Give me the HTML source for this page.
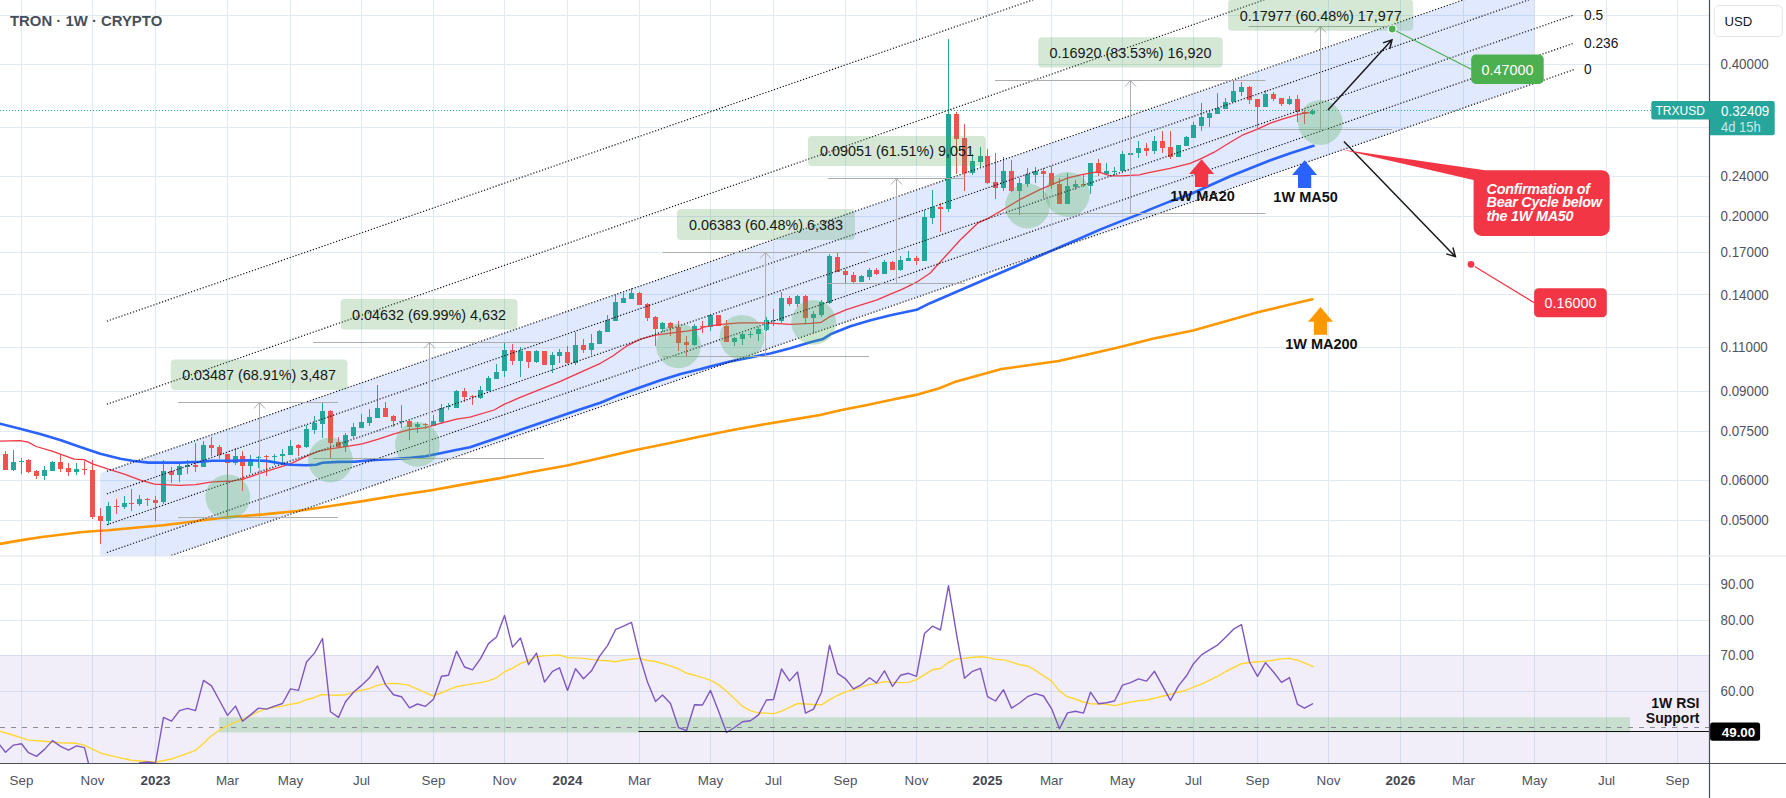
<!DOCTYPE html>
<html><head><meta charset="utf-8"><title>TRON 1W</title><style>html,body{margin:0;padding:0;background:#fff}body{width:1786px;height:798px;overflow:hidden}</style></head><body>
<svg width="1786" height="798" viewBox="0 0 1786 798" font-family='"Liberation Sans", Arial, sans-serif' style="display:block">
<rect width="1786" height="798" fill="#fff"/>
<defs><clipPath id="cm"><rect x="0" y="0" width="1709.5" height="556"/></clipPath><clipPath id="cr"><rect x="0" y="556" width="1709.5" height="207.5"/></clipPath></defs>
<path d="M21.5 0V763.5M92.5 0V763.5M155.5 0V763.5M227.5 0V763.5M290.5 0V763.5M361.5 0V763.5M433.5 0V763.5M504.5 0V763.5M567.5 0V763.5M639.5 0V763.5M710.5 0V763.5M773.5 0V763.5M845.5 0V763.5M916.5 0V763.5M987.5 0V763.5M1051.5 0V763.5M1122.5 0V763.5M1193.5 0V763.5M1257.5 0V763.5M1328.5 0V763.5M1400.5 0V763.5M1463.5 0V763.5M1534.5 0V763.5M1606.5 0V763.5M1677.5 0V763.5M0 15.5H1709.5M0 64.5H1709.5M0 127.5H1709.5M0 176.5H1709.5M0 216.5H1709.5M0 252.5H1709.5M0 294.5H1709.5M0 347.5H1709.5M0 391.5H1709.5M0 431.5H1709.5M0 480.5H1709.5M0 520.5H1709.5M0 584.5H1709.5M0 620.5H1709.5M0 655.5H1709.5M0 691.5H1709.5" stroke="#e0eaf3" stroke-width="1" fill="none"/>
<rect x="0" y="655" width="1709.5" height="108.5" fill="rgba(126,87,194,0.1)"/>
<g clip-path="url(#cm)">
<polygon points="100.2,473.3 1534.5,-24.4 1534.5,83.3 100.2,580" fill="rgba(41,98,255,0.14)"/>
<polyline points="0,543.9 20,540.4 40.1,537.3 60.2,534.7 80.2,532.3 92.4,531.3 108.3,530.3 140.4,527.3 163.4,525.3 187.5,522.3 210.5,519.3 230,517 263.6,514.4 297.2,511 330.8,506 364.4,500.9 398,495.2 431.5,490.2 465.1,484.1 498.7,478.4 532.3,471.7 565.9,465.7 599.5,458.3 633.1,450.5 666.7,443.8 700.3,436.4 733.9,429.7 767.5,423.7 800,418.4 820.2,415 840.3,410.3 867.2,405 894,399.2 915.9,394.9 939.4,388.2 954.5,382.1 978,375.4 1001.5,369 1028.4,365.3 1058.6,361 1085.5,354.9 1119.1,347.2 1152.7,338.8 1193,330.4 1223.2,322 1256.8,312.6 1287,305.2 1312.4,299.3" fill="none" stroke="#ff9800" stroke-width="2.6" stroke-linejoin="round" stroke-linecap="round" />
<path d="M13 450h1V471h-1zM21 458h1V474h-1zM44 466h1V480h-1zM52 461h1V471h-1zM76 463h1V475h-1zM108 502h1V525h-1zM124 496h1V509h-1zM139 495h1V506h-1zM163 460h1V504h-1zM179 464h1V482h-1zM187 460h1V474h-1zM203 441h1V467h-1zM235 448h1V465h-1zM250 455h1V473h-1zM258 456h1V468h-1zM274 454h1V465h-1zM282 449h1V464h-1zM290 440h1V455h-1zM306 425h1V448h-1zM314 416h1V434h-1zM322 403h1V438h-1zM345 433h1V452h-1zM353 423h1V438h-1zM361 414h1V428h-1zM369 409h1V426h-1zM377 385h1V418h-1zM401 405h1V428h-1zM417 422h1V433h-1zM433 415h1V426h-1zM441 404h1V424h-1zM448 403h1V410h-1zM456 390h1V408h-1zM480 386h1V399h-1zM488 376h1V391h-1zM496 364h1V379h-1zM504 343h1V377h-1zM520 347h1V377h-1zM536 350h1V363h-1zM552 352h1V373h-1zM559 349h1V363h-1zM575 332h1V365h-1zM591 334h1V355h-1zM599 330h1V344h-1zM607 315h1V332h-1zM615 295h1V321h-1zM623 293h1V303h-1zM631 288h1V299h-1zM662 322h1V332h-1zM694 324h1V346h-1zM710 314h1V331h-1zM734 337h1V346h-1zM742 333h1V345h-1zM750 331h1V338h-1zM758 327h1V341h-1zM766 317h1V331h-1zM773 309h1V326h-1zM781 292h1V323h-1zM797 295h1V307h-1zM813 311h1V333h-1zM821 300h1V317h-1zM829 254h1V304h-1zM861 275h1V282h-1zM869 268h1V280h-1zM884 260h1V274h-1zM900 256h1V271h-1zM908 251h1V261h-1zM924 210h1V261h-1zM932 190h1V224h-1zM948 39h1V212h-1zM972 154h1V175h-1zM980 147h1V167h-1zM1003 157h1V191h-1zM1019 178h1V215h-1zM1027 168h1V187h-1zM1035 167h1V183h-1zM1067 173h1V204h-1zM1075 180h1V190h-1zM1090 163h1V194h-1zM1106 163h1V175h-1zM1114 167h1V175h-1zM1122 151h1V172h-1zM1130 153h1V155h-1zM1138 141h1V158h-1zM1154 136h1V154h-1zM1178 145h1V157h-1zM1186 136h1V146h-1zM1193 122h1V138h-1zM1201 103h1V131h-1zM1209 110h1V127h-1zM1217 93h1V114h-1zM1225 98h1V109h-1zM1233 80h1V102h-1zM1241 82h1V96h-1zM1265 90h1V107h-1zM1289 96h1V105h-1zM1312 109h1V115h-1zM11 462h5V470h-5zM19 461h5V462h-5zM42 470h5V476h-5zM50 462h5V471h-5zM74 469h5V472h-5zM106 506h5V521h-5zM122 503h5V507h-5zM137 499h5V504h-5zM161 471h5V502h-5zM177 466h5V475h-5zM185 465h5V467h-5zM201 445h5V467h-5zM233 456h5V463h-5zM248 460h5V466h-5zM256 457h5V458h-5zM272 456h5V457h-5zM280 454h5V456h-5zM288 446h5V455h-5zM304 429h5V447h-5zM312 423h5V430h-5zM320 411h5V424h-5zM343 435h5V447h-5zM351 427h5V436h-5zM359 422h5V428h-5zM367 417h5V423h-5zM375 408h5V418h-5zM399 421h5V422h-5zM415 424h5V427h-5zM431 421h5V426h-5zM439 408h5V422h-5zM446 406h5V407h-5zM454 391h5V408h-5zM478 390h5V398h-5zM486 378h5V391h-5zM494 372h5V379h-5zM502 350h5V371h-5zM518 351h5V361h-5zM534 351h5V362h-5zM550 355h5V365h-5zM557 352h5V356h-5zM573 345h5V363h-5zM589 343h5V350h-5zM597 331h5V344h-5zM605 320h5V332h-5zM613 302h5V321h-5zM621 298h5V303h-5zM629 293h5V299h-5zM660 323h5V329h-5zM692 326h5V345h-5zM708 315h5V327h-5zM732 338h5V342h-5zM740 334h5V339h-5zM748 334h5V335h-5zM756 329h5V334h-5zM764 320h5V330h-5zM771 320h5V321h-5zM779 298h5V321h-5zM795 296h5V304h-5zM811 314h5V318h-5zM819 302h5V315h-5zM827 256h5V303h-5zM859 276h5V282h-5zM867 270h5V277h-5zM882 262h5V274h-5zM898 260h5V270h-5zM906 258h5V261h-5zM922 217h5V261h-5zM930 207h5V218h-5zM946 114h5V209h-5zM970 161h5V173h-5zM978 156h5V162h-5zM1001 171h5V188h-5zM1017 183h5V191h-5zM1025 174h5V184h-5zM1033 171h5V175h-5zM1065 186h5V204h-5zM1073 184h5V187h-5zM1088 163h5V186h-5zM1104 171h5V174h-5zM1112 171h5V172h-5zM1120 154h5V171h-5zM1128 153h5V155h-5zM1136 148h5V153h-5zM1152 141h5V151h-5zM1176 145h5V157h-5zM1184 137h5V146h-5zM1191 125h5V138h-5zM1199 117h5V126h-5zM1207 113h5V118h-5zM1215 108h5V114h-5zM1223 102h5V109h-5zM1231 91h5V102h-5zM1239 87h5V92h-5zM1263 94h5V107h-5zM1287 99h5V104h-5zM1310 111h5V114h-5z" fill="#26a69a" shape-rendering="crispEdges"/>
<path d="M5 451h1V470h-1zM28 459h1V473h-1zM36 470h1V479h-1zM60 454h1V472h-1zM68 463h1V476h-1zM84 461h1V475h-1zM92 460h1V519h-1zM100 508h1V544h-1zM116 499h1V514h-1zM131 489h1V511h-1zM147 498h1V506h-1zM155 496h1V521h-1zM171 467h1V483h-1zM195 443h1V472h-1zM211 437h1V456h-1zM219 445h1V459h-1zM227 454h1V516h-1zM242 451h1V491h-1zM266 455h1V476h-1zM298 444h1V456h-1zM330 410h1V458h-1zM338 437h1V448h-1zM385 402h1V417h-1zM393 415h1V427h-1zM409 420h1V440h-1zM425 423h1V429h-1zM464 388h1V402h-1zM472 395h1V405h-1zM512 344h1V365h-1zM528 351h1V368h-1zM544 351h1V365h-1zM567 346h1V364h-1zM583 339h1V353h-1zM639 292h1V305h-1zM647 303h1V321h-1zM655 316h1V346h-1zM670 322h1V336h-1zM678 321h1V351h-1zM686 336h1V356h-1zM702 321h1V333h-1zM718 315h1V326h-1zM726 320h1V342h-1zM789 296h1V306h-1zM805 295h1V323h-1zM837 253h1V272h-1zM845 269h1V283h-1zM853 272h1V283h-1zM876 268h1V275h-1zM892 261h1V270h-1zM916 256h1V265h-1zM940 203h1V232h-1zM956 112h1V174h-1zM964 124h1V191h-1zM987 149h1V184h-1zM995 153h1V199h-1zM1011 160h1V192h-1zM1043 168h1V198h-1zM1051 166h1V189h-1zM1059 178h1V204h-1zM1083 175h1V187h-1zM1098 159h1V176h-1zM1146 143h1V156h-1zM1162 131h1V153h-1zM1170 131h1V159h-1zM1249 86h1V104h-1zM1257 99h1V129h-1zM1273 92h1V101h-1zM1281 98h1V106h-1zM1297 95h1V122h-1zM1304 110h1V124h-1zM3 454h5V470h-5zM26 460h5V472h-5zM34 471h5V476h-5zM58 462h5V469h-5zM66 468h5V472h-5zM82 469h5V470h-5zM90 470h5V517h-5zM98 516h5V521h-5zM114 506h5V507h-5zM129 503h5V504h-5zM145 499h5V500h-5zM153 500h5V503h-5zM169 471h5V475h-5zM193 465h5V467h-5zM209 445h5V448h-5zM217 447h5V455h-5zM225 454h5V463h-5zM240 456h5V466h-5zM264 456h5V457h-5zM296 445h5V448h-5zM328 411h5V443h-5zM336 442h5V447h-5zM383 408h5V417h-5zM391 416h5V421h-5zM407 421h5V427h-5zM423 424h5V425h-5zM462 391h5V397h-5zM470 396h5V397h-5zM510 350h5V361h-5zM526 351h5V362h-5zM542 351h5V365h-5zM565 352h5V363h-5zM581 345h5V350h-5zM637 293h5V305h-5zM645 304h5V318h-5zM653 317h5V329h-5zM668 323h5V328h-5zM676 327h5V343h-5zM684 342h5V345h-5zM700 326h5V327h-5zM716 315h5V326h-5zM724 326h5V342h-5zM787 298h5V304h-5zM803 296h5V318h-5zM835 257h5V272h-5zM843 271h5V275h-5zM851 275h5V282h-5zM874 270h5V274h-5zM890 262h5V270h-5zM914 258h5V261h-5zM938 207h5V209h-5zM954 114h5V139h-5zM962 138h5V173h-5zM985 156h5V183h-5zM993 182h5V188h-5zM1009 171h5V191h-5zM1041 171h5V174h-5zM1049 173h5V185h-5zM1057 184h5V204h-5zM1081 184h5V185h-5zM1096 163h5V173h-5zM1144 148h5V151h-5zM1160 141h5V148h-5zM1168 147h5V157h-5zM1247 87h5V100h-5zM1255 99h5V107h-5zM1271 94h5V99h-5zM1279 98h5V104h-5zM1295 99h5V112h-5zM1302 112h5V114h-5z" fill="#ef5350" shape-rendering="crispEdges"/>
<polyline points="0,441.1 20.1,440.7 28.1,442.1 36.1,446.5 52.1,451.1 60.2,454.1 74.2,459.1 84.2,459.7 92.4,463.8 108.3,469.2 124.3,474.2 140.4,480.2 154.4,484.2 164.4,484.6 180.5,485.4 195.5,484.6 210.5,482.2 227.4,481.2 230,481.4 242.6,479.3 260.1,473.3 274.1,468.9 290.2,463.9 306.2,456.3 318.2,451.3 330.3,448.9 345.7,446.7 362.3,443.9 378.4,439.2 393.4,434.2 409.4,429.6 425.5,427.6 441.3,423.2 456.6,419.2 470,417.2 494.1,410 504.1,404.4 520.2,397.4 540.2,389.3 560.3,381.3 580.3,372.3 600.4,363.3 612.4,356.3 626.4,346.2 640.5,339.2 655.5,335.2 670.5,333.2 686.6,331.2 700,329.2 702,327.3 718.1,324.7 740.1,322.9 760.2,322.9 774.2,323.3 790.3,324.3 810.3,323.3 821.3,322.3 830.4,316.3 846.4,309.6 860.4,305.2 876.5,300.2 890.5,294.2 902.5,289.2 916.6,282.2 930,273.2 960.2,240 978.2,222.8 988.2,218.3 1000.3,211.3 1020.3,199.3 1040.4,189.3 1052.4,184.3 1067.4,178.2 1080.5,174.8 1095.5,172.2 1100.5,172.6 1110.5,175.8 1120.6,175.8 1140,174.8 1140,174.7 1150.1,172.3 1170.1,168.3 1190.2,163.3 1202.2,158.2 1214.2,152.2 1230.3,142.2 1242.3,135.2 1257.5,129.2 1270.4,123.2 1282.4,119.1 1297.4,114.7 1304.6,113.1 1309,112.7" fill="none" stroke="#f23645" stroke-width="1.3" stroke-linejoin="round" stroke-linecap="round" />
<polyline points="0,423.7 20.1,428.7 40.1,434.1 60.2,440.1 80.2,447.1 100.3,453.7 120.3,458.7 132.3,460.8 148.4,462.6 163.4,462.6 180.5,462.6 200.5,461.8 212.5,460.8 226.6,460.8 230,460.9 250.1,460.3 266.1,460.9 280.1,463.3 290.2,464.7 306.2,465.3 316.2,464.7 322.4,462.7 338.3,461.9 354.3,461.7 370.4,460.3 390.4,459.3 410.5,457.9 425.5,456.3 440.5,453.3 454.6,450.3 470,447.3 578.3,410 600.4,402.8 620.4,394.4 640.5,387.3 660.5,380.3 680.6,373.9 700,369.3 710.1,366.4 730.1,361.4 750.2,357.4 770.2,353.4 790.3,348.3 810.3,342.3 822.3,339.3 830.4,334.3 850.4,326.3 870.5,320.3 890.5,315.3 916.6,309.8 930,303.2 1076.4,240 1100.5,229.4 1120.6,221.4 1140,213.9 1150.1,209.4 1170.1,201.4 1190.2,194.3 1210.2,185.3 1230.3,176.3 1250.3,168.3 1270.4,160.3 1290.4,153.2 1313.5,145.8" fill="none" stroke="#2962ff" stroke-width="2.6" stroke-linejoin="round" stroke-linecap="round" />
<path d="M0 110.5H1709.5" stroke="#26a69a" stroke-width="1" stroke-dasharray="1 2" fill="none"/>
<line x1="106.9" y1="321.2" x2="1573.9" y2="-187.9" stroke="#111" stroke-width="1.2" stroke-dasharray="1.2 1.87"/>
<line x1="106.9" y1="404.3" x2="1573.9" y2="-108.4" stroke="#111" stroke-width="1.2" stroke-dasharray="1.2 1.87"/>
<line x1="106.9" y1="471.3" x2="1573.9" y2="-38.5" stroke="#111" stroke-width="1.2" stroke-dasharray="1.2 1.87"/>
<line x1="106.9" y1="493.9" x2="1573.9" y2="-15.8" stroke="#111" stroke-width="1.2" stroke-dasharray="1.2 1.87"/>
<line x1="106.9" y1="524.8" x2="1573.9" y2="15" stroke="#111" stroke-width="1.2" stroke-dasharray="1.2 1.87"/>
<line x1="106.9" y1="552.5" x2="1573.9" y2="43.2" stroke="#111" stroke-width="1.2" stroke-dasharray="1.2 1.87"/>
<line x1="171.4" y1="555.4" x2="1573.9" y2="69.7" stroke="#111" stroke-width="1.2" stroke-dasharray="1.2 1.87"/>
<text transform="translate(1584 19.9) scale(0.94 1)" font-size="14.6" text-anchor="start" fill="#161616">0.5</text>
<text transform="translate(1584 47.9) scale(0.94 1)" font-size="14.6" text-anchor="start" fill="#161616">0.236</text>
<text transform="translate(1584 74.4) scale(0.94 1)" font-size="14.6" text-anchor="start" fill="#161616">0</text>
<path d="M178 402.5H338M178 517.5H338M259.5 517.5V402.5M254.0 408.5L259.5 402.5L265.0 408.5" stroke="#adadad" stroke-width="1" fill="none"/>
<rect x="170.8" y="359.5" width="176.7" height="30.5" rx="4" fill="rgba(76,160,80,0.24)"/>
<text transform="translate(259.1 380.1) scale(0.945 1)" font-size="15.2" text-anchor="middle" fill="#161616">0.03487 (68.91%) 3,487</text>
<path d="M313 342.5H542M313 458.5H544M429.5 458.5V342.5M424.0 348.5L429.5 342.5L435.0 348.5" stroke="#adadad" stroke-width="1" fill="none"/>
<rect x="340.5" y="299" width="177" height="30.5" rx="4" fill="rgba(76,160,80,0.24)"/>
<text transform="translate(429 319.6) scale(0.945 1)" font-size="15.2" text-anchor="middle" fill="#161616">0.04632 (69.99%) 4,632</text>
<path d="M662.5 252.5H869M662.5 356.5H869M765.5 356.5V252.5M760.0 258.5L765.5 252.5L771.0 258.5" stroke="#adadad" stroke-width="1" fill="none"/>
<rect x="677" y="209" width="178" height="31" rx="4" fill="rgba(76,160,80,0.24)"/>
<text transform="translate(766 229.9) scale(0.945 1)" font-size="15.2" text-anchor="middle" fill="#161616">0.06383 (60.48%) 6,383</text>
<path d="M828 178.5H965M828 283.5H965M896.5 283.5V178.5M891.0 184.5L896.5 178.5L902.0 184.5" stroke="#adadad" stroke-width="1" fill="none"/>
<rect x="808" y="136" width="178" height="30" rx="4" fill="rgba(76,160,80,0.24)"/>
<text transform="translate(897 156.4) scale(0.945 1)" font-size="15.2" text-anchor="middle" fill="#161616">0.09051 (61.51%) 9,051</text>
<path d="M995 80.5H1265.4M998 213.5H1265.4M1130.5 213.5V80.5M1125.0 86.5L1130.5 80.5L1136.0 86.5" stroke="#adadad" stroke-width="1" fill="none"/>
<rect x="1038.2" y="37.3" width="184.5" height="30.2" rx="4" fill="rgba(76,160,80,0.24)"/>
<text transform="translate(1130.5 57.8) scale(0.945 1)" font-size="15.2" text-anchor="middle" fill="#161616">0.16920 (83.53%) 16,920</text>
<path d="M1248.5 26.5H1390M1257.5 129.5H1392M1320.5 129.5V26.5M1315.0 32.5L1320.5 26.5L1326.0 32.5" stroke="#adadad" stroke-width="1" fill="none"/>
<rect x="1228.1" y="-0.5" width="185.1" height="31.3" rx="4" fill="rgba(76,160,80,0.24)"/>
<text transform="translate(1320.7 20.6) scale(0.945 1)" font-size="15.2" text-anchor="middle" fill="#161616">0.17977 (60.48%) 17,977</text>
<circle cx="227.8" cy="497" r="22.4" fill="rgba(76,175,80,0.3)"/>
<circle cx="330.4" cy="460" r="22.4" fill="rgba(76,175,80,0.3)"/>
<circle cx="417.4" cy="444.4" r="22.4" fill="rgba(76,175,80,0.3)"/>
<circle cx="678.5" cy="345.8" r="22.4" fill="rgba(76,175,80,0.3)"/>
<circle cx="742" cy="337.3" r="22.4" fill="rgba(76,175,80,0.3)"/>
<circle cx="813.7" cy="322.3" r="22.4" fill="rgba(76,175,80,0.3)"/>
<circle cx="1027.5" cy="206" r="22.4" fill="rgba(76,175,80,0.3)"/>
<circle cx="1067.4" cy="194.3" r="22.4" fill="rgba(76,175,80,0.3)"/>
<circle cx="1320.3" cy="122.5" r="22.4" fill="rgba(76,175,80,0.3)"/>
<path d="M1201.6 159.3l12.5 14.8h-5.9v12.9h-13.2v-12.9h-5.9z" fill="#f23645"/>
<path d="M1304.6 160.3l12.5 14.8h-5.9v12.9h-13.2v-12.9h-5.9z" fill="#2962ff"/>
<path d="M1320.5 307l12.5 14.8h-5.9v12.9h-13.2v-12.9h-5.9z" fill="#ff9800"/>
<text x="1202.6" y="200.6" font-size="14.5" font-weight="bold" text-anchor="middle" fill="#111">1W MA20</text>
<text x="1305.6" y="201.5" font-size="14.5" font-weight="bold" text-anchor="middle" fill="#111">1W MA50</text>
<text x="1321.4" y="349" font-size="14.5" font-weight="bold" text-anchor="middle" fill="#111">1W MA200</text>
<path d="M1328 110L1392 39.8M1389.7 49L1392 39.8L1383 42.9" stroke="#1a1a1a" stroke-width="1.5" fill="none"/>
<path d="M1343.9 141.6L1455.4 256.7M1446.3 253.9L1455.4 256.7L1452.9 247.5" stroke="#1a1a1a" stroke-width="1.5" fill="none"/>
<path d="M1341.4 149.6L1485 170.2H1601.7a8 8 0 0 1 8 8V227.9a8 8 0 0 1 -8 8H1481.6a8 8 0 0 1 -8 -8V180z" fill="#f23645"/>
<text x="1486.5" y="193.6" font-size="14.4" letter-spacing="-0.25" font-weight="bold" font-style="italic" fill="#fff">Confirmation of</text>
<text x="1486.5" y="207.3" font-size="14.4" letter-spacing="-0.25" font-weight="bold" font-style="italic" fill="#fff">Bear Cycle below</text>
<text x="1486.5" y="221" font-size="14.4" letter-spacing="-0.25" font-weight="bold" font-style="italic" fill="#fff">the 1W MA50</text>
<line x1="1392.2" y1="29" x2="1471.2" y2="69.2" stroke="#4caf50" stroke-width="1.2"/>
<circle cx="1392.2" cy="29" r="4" fill="#4caf50" stroke="#fff" stroke-width="1.2"/>
<rect x="1471.2" y="54.6" width="72.5" height="29.3" rx="4.5" fill="#4caf50"/>
<text transform="translate(1507.5 74.5) scale(0.945 1)" font-size="15.2" text-anchor="middle" fill="#fff">0.47000</text>
<line x1="1471" y1="264.3" x2="1534.1" y2="302.7" stroke="#f23645" stroke-width="1.2"/>
<circle cx="1471" cy="264.3" r="4" fill="#f23645" stroke="#fff" stroke-width="1.2"/>
<rect x="1534.1" y="288.2" width="72.7" height="29" rx="4.5" fill="#f23645"/>
<text transform="translate(1570.5 308) scale(0.945 1)" font-size="15.2" text-anchor="middle" fill="#fff">0.16000</text>
<text x="10" y="26.2" font-size="14.9" font-weight="bold" fill="#4a4e59">TRON · 1W · CRYPTO</text>
</g>
<g clip-path="url(#cr)">
<rect x="219.2" y="717.3" width="1410.8" height="15.2" fill="rgba(76,175,80,0.25)"/>
<path d="M0 727.5H1709.5" stroke="#8a8d96" stroke-width="1" stroke-dasharray="5 6" fill="none"/>
<polyline points="0,731.2 12.6,735 28.5,740.1 44.3,741.3 60.2,742.8 76.1,743.3 84.2,745.1 100.8,753.2 115.9,756.9 131,760.2 147.4,761.5 155.5,762.2 171.3,759 179.1,756.4 195,750.7 203.1,743.8 210.9,736.3 218.7,730.7 226.8,726.2 234.6,722.4 242.6,719.2 250.4,715.6 258.5,711.6 266.3,708.6 274.4,707.3 282.2,706.1 290.2,704.3 298.1,703 306.1,699.8 313.9,697.7 321.7,694.5 329.8,695 337.6,695.2 345.7,694.7 353.5,692.2 361.6,690.4 369.4,688.4 377.4,685.4 385.2,683.9 393,683.4 401.1,683.9 408.9,685.4 417,688.9 424.8,692.4 432.9,696 440.7,693 448.8,689.7 456.6,686.7 464.7,685.1 480.6,682.6 488.4,680.9 496.4,677.8 504.2,672 512.3,668.3 520.1,663.7 528.2,660.7 536,656.9 543.8,655.9 551.9,655.4 559.7,655.2 567.7,657.7 575.6,657.9 583.6,658.4 591.4,659.4 599.5,660.2 607.3,660.7 615.4,661.7 623.2,660.2 631.2,659.2 639,658.4 647.1,660.2 654.9,661.5 662.7,663.5 670.8,666.2 678.6,669 686.7,673.3 694.5,675.3 702.5,677.6 710.3,680.1 718.4,684.6 726.2,690.9 734.3,698.5 742.1,706.1 750.2,710.6 758,712.9 766,713.1 773.8,713.6 781.6,711.1 789.7,707.3 797.5,703.5 805.6,704 813.4,704.5 821.5,704.8 829.3,699.8 837.3,695.5 845.1,692.2 853.2,689.7 861,687.2 868.8,684.6 876.9,683.4 884.7,681.6 884.8,681.6 892.8,682.4 900.7,682.6 908.7,682.4 916.5,679.6 924.6,674.6 932.4,669.8 940.5,668.5 948.3,662.5 956.3,658.9 964.2,658.4 972.2,657.2 980,656.7 987.8,657.4 995.9,659.4 1003.7,659.9 1011.8,662.2 1019.6,664.7 1027.6,666 1035.5,670.3 1043.5,675.8 1051.3,680.9 1059.4,690.9 1067.2,696.7 1075.3,699 1083.1,702 1090.9,703.8 1098.9,704 1106.8,704.3 1114.8,705.6 1122.6,703.8 1130.7,702 1138.5,700.8 1146.6,700 1154.4,698.2 1162.4,696.2 1170.2,694.5 1178.3,692.2 1186.1,690.2 1194.2,686.9 1202,683.9 1210.1,679.9 1217.9,676.1 1225.7,671.5 1233.7,667.5 1241.6,663.7 1249.6,662.5 1257.4,661.7 1265.5,661.2 1273.3,660.2 1281.4,658.9 1289.2,658.4 1297.2,660.2 1305,663.2 1313.1,666.7" fill="none" stroke="#fdd835" stroke-width="1.4" stroke-linejoin="round" stroke-linecap="round" />
<polyline points="0,745.1 5.5,752.2 13.5,745.1 21.5,743.8 28.5,752.7 36.5,756.4 44.5,749.4 52.5,740.6 60.5,746.4 68.5,750.1 76.5,745.9 84.5,747.6 92.5,779.1 100.5,796.8 108.5,786.7 116.5,784.2 124.5,779.1 131.5,774.1 139.5,763 147.5,762 155.5,763 163.5,717.4 171.5,721.2 179.5,710.6 187.5,708.3 195.5,710.6 203.5,680.4 211.5,685.9 219.5,700.5 227.5,715.4 235.5,706.1 242.5,721.2 250.5,714.9 258.5,708.1 266.5,709.1 274.5,706.1 282.5,703.5 290.5,688.9 298.5,690.4 306.5,662 314.5,653.1 322.5,638.5 330.5,711.8 338.5,717.4 345.5,701.8 353.5,692.2 361.5,685.4 369.5,677.8 377.5,666 385.5,684.6 393.5,694.7 401.5,696.7 409.5,707.8 417.5,704 425.5,706.3 433.5,699.3 441.5,676.3 448.5,675.3 456.5,651.1 464.5,667 472.5,669.8 480.5,658.7 488.5,643.6 496.5,637 504.5,615.4 512.5,647.1 520.5,638 528.5,664.5 536.5,653.1 544.5,682.1 552.5,671.3 559.5,667.8 567.5,690.4 575.5,668.8 583.5,678.8 591.5,670.8 599.5,656.4 607.5,645.6 615.5,629.7 623.5,626.2 631.5,622.4 639.5,655.7 647.5,682.1 655.5,701.5 662.5,695 670.5,703.5 678.5,727.5 686.5,730.7 694.5,704.8 702.5,705 710.5,690.4 718.5,711.1 726.5,732.5 734.5,727.5 742.5,721.7 750.5,720.7 758.5,714.9 766.5,700 773.5,699.5 781.5,669 789.5,680.9 797.5,672 805.5,713.1 813.5,709.1 821.5,692.2 829.5,645.1 837.5,673.3 845.5,678.8 853.5,688.9 861.5,684.6 869.5,677.8 876.5,682.9 884.5,670.8 892.5,686.4 900.5,675.3 908.5,673.3 916.5,676.3 924.5,633.5 932.5,626.2 940.5,630 948.5,585.6 956.5,634.2 964.5,678.3 972.5,671.3 980.5,668.3 987.5,696.7 995.5,701 1003.5,689.7 1011.5,708.1 1019.5,703 1027.5,696.7 1035.5,693.7 1043.5,696 1051.5,708.6 1059.5,728.7 1067.5,712.9 1075.5,711.3 1083.5,713.1 1090.5,692.2 1098.5,703.8 1106.5,702.8 1114.5,701 1122.5,685.1 1130.5,682.6 1138.5,678.8 1146.5,681.1 1154.5,671.3 1162.5,685.9 1170.5,700.3 1178.5,685.9 1186.5,675.8 1193.5,663.7 1201.5,654.9 1209.5,649.9 1217.5,645.1 1225.5,637.5 1233.5,629.2 1241.5,624.7 1249.5,662 1257.5,676.3 1265.5,662.7 1273.5,672 1281.5,682.4 1289.5,677.6 1297.5,704.3 1304.5,708.1 1312.5,703.8" fill="none" stroke="#7e57c2" stroke-width="1.4" stroke-linejoin="round" stroke-linecap="round" />
<path d="M638.5 731.5H1709.5" stroke="#111" stroke-width="1" fill="none"/>
<text x="1699.5" y="707.6" font-size="14" font-weight="bold" text-anchor="end" fill="#111">1W RSI</text>
<text x="1699.5" y="723" font-size="14" font-weight="bold" text-anchor="end" fill="#111">Support</text>
</g>
<rect x="1709.5" y="0" width="76.5" height="798" fill="#fff"/>
<rect x="0" y="763.5" width="1786" height="34.5" fill="#fff"/>
<path d="M1709.5 0V798M0 763.5H1786" stroke="#4a4e59" stroke-width="1.2" fill="none"/>
<path d="M0 556H1786" stroke="#e0e3eb" stroke-width="1.2" fill="none"/>
<text transform="translate(1720.5 69.3) scale(0.955 1)" font-size="14" text-anchor="start" fill="#50535e">0.40000</text>
<text transform="translate(1720.5 181.3) scale(0.955 1)" font-size="14" text-anchor="start" fill="#50535e">0.24000</text>
<text transform="translate(1720.5 221.3) scale(0.955 1)" font-size="14" text-anchor="start" fill="#50535e">0.20000</text>
<text transform="translate(1720.5 256.9) scale(0.955 1)" font-size="14" text-anchor="start" fill="#50535e">0.17000</text>
<text transform="translate(1720.5 299.5) scale(0.955 1)" font-size="14" text-anchor="start" fill="#50535e">0.14000</text>
<text transform="translate(1720.5 352.3) scale(0.955 1)" font-size="14" text-anchor="start" fill="#50535e">0.11000</text>
<text transform="translate(1720.5 396.3) scale(0.955 1)" font-size="14" text-anchor="start" fill="#50535e">0.09000</text>
<text transform="translate(1720.5 436.3) scale(0.955 1)" font-size="14" text-anchor="start" fill="#50535e">0.07500</text>
<text transform="translate(1720.5 485.2) scale(0.955 1)" font-size="14" text-anchor="start" fill="#50535e">0.06000</text>
<text transform="translate(1720.5 525.2) scale(0.955 1)" font-size="14" text-anchor="start" fill="#50535e">0.05000</text>
<text transform="translate(1720.5 588.9) scale(0.955 1)" font-size="14" text-anchor="start" fill="#50535e">90.00</text>
<text transform="translate(1720.5 624.9) scale(0.955 1)" font-size="14" text-anchor="start" fill="#50535e">80.00</text>
<text transform="translate(1720.5 660.1) scale(0.955 1)" font-size="14" text-anchor="start" fill="#50535e">70.00</text>
<text transform="translate(1720.5 696.2) scale(0.955 1)" font-size="14" text-anchor="start" fill="#50535e">60.00</text>
<rect x="1714.3" y="5.5" width="68" height="31" rx="4.5" fill="#fff" stroke="#e0e3eb" stroke-width="1"/>
<text x="1738.4" y="25.6" font-size="13.2" text-anchor="middle" fill="#131722">USD</text>
<path d="M1653.3 101.1H1772.7a2 2 0 0 1 2 2V133.3a2 2 0 0 1 -2 2H1709.9V119.5H1653.3a2 2 0 0 1 -2 -2V103.1a2 2 0 0 1 2 -2z" fill="#26a69a"/>
<text x="1680.2" y="114.6" font-size="12" text-anchor="middle" fill="#fff">TRXUSD</text>
<text transform="translate(1721 115.8) scale(0.955 1)" font-size="14" text-anchor="start" fill="#fff">0.32409</text>
<text transform="translate(1721 132.2) scale(0.93 1)" font-size="14" text-anchor="start" fill="rgba(255,255,255,0.75)">4d 15h</text>
<rect x="1710.1" y="722.6" width="50" height="18.2" rx="2.5" fill="#000"/>
<text x="1738.5" y="736.7" font-size="13.4" font-weight="bold" text-anchor="middle" fill="#fff">49.00</text>
<text x="21.5" y="784.8" font-size="13.4" text-anchor="middle" fill="#50535e">Sep</text>
<text x="92.5" y="784.8" font-size="13.4" text-anchor="middle" fill="#50535e">Nov</text>
<text x="155.5" y="784.8" font-size="13.4" text-anchor="middle" fill="#434651" font-weight="bold">2023</text>
<text x="227.5" y="784.8" font-size="13.4" text-anchor="middle" fill="#50535e">Mar</text>
<text x="290.5" y="784.8" font-size="13.4" text-anchor="middle" fill="#50535e">May</text>
<text x="361.5" y="784.8" font-size="13.4" text-anchor="middle" fill="#50535e">Jul</text>
<text x="433.5" y="784.8" font-size="13.4" text-anchor="middle" fill="#50535e">Sep</text>
<text x="504.5" y="784.8" font-size="13.4" text-anchor="middle" fill="#50535e">Nov</text>
<text x="567.5" y="784.8" font-size="13.4" text-anchor="middle" fill="#434651" font-weight="bold">2024</text>
<text x="639.5" y="784.8" font-size="13.4" text-anchor="middle" fill="#50535e">Mar</text>
<text x="710.5" y="784.8" font-size="13.4" text-anchor="middle" fill="#50535e">May</text>
<text x="773.5" y="784.8" font-size="13.4" text-anchor="middle" fill="#50535e">Jul</text>
<text x="845.5" y="784.8" font-size="13.4" text-anchor="middle" fill="#50535e">Sep</text>
<text x="916.5" y="784.8" font-size="13.4" text-anchor="middle" fill="#50535e">Nov</text>
<text x="987.5" y="784.8" font-size="13.4" text-anchor="middle" fill="#434651" font-weight="bold">2025</text>
<text x="1051.5" y="784.8" font-size="13.4" text-anchor="middle" fill="#50535e">Mar</text>
<text x="1122.5" y="784.8" font-size="13.4" text-anchor="middle" fill="#50535e">May</text>
<text x="1193.5" y="784.8" font-size="13.4" text-anchor="middle" fill="#50535e">Jul</text>
<text x="1257.5" y="784.8" font-size="13.4" text-anchor="middle" fill="#50535e">Sep</text>
<text x="1328.5" y="784.8" font-size="13.4" text-anchor="middle" fill="#50535e">Nov</text>
<text x="1400.5" y="784.8" font-size="13.4" text-anchor="middle" fill="#434651" font-weight="bold">2026</text>
<text x="1463.5" y="784.8" font-size="13.4" text-anchor="middle" fill="#50535e">Mar</text>
<text x="1534.5" y="784.8" font-size="13.4" text-anchor="middle" fill="#50535e">May</text>
<text x="1606.5" y="784.8" font-size="13.4" text-anchor="middle" fill="#50535e">Jul</text>
<text x="1677.5" y="784.8" font-size="13.4" text-anchor="middle" fill="#50535e">Sep</text>
</svg>
</body></html>
